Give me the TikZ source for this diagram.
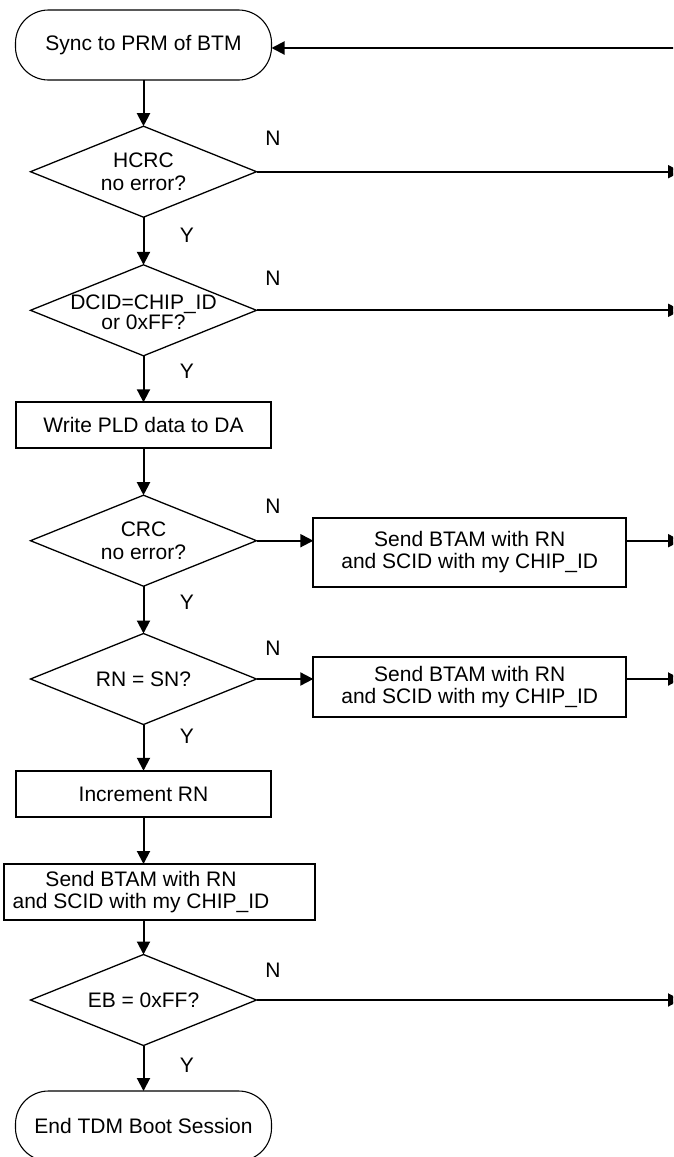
\documentclass[tikz,border=0pt]{standalone}
\usepackage{fontspec}
\setmainfont{Liberation Sans}
\usetikzlibrary{shapes.geometric,arrows.meta}
\begin{document}
\begin{tikzpicture}[x=1pt,y=1pt,
  every node/.style={inner sep=0pt, outer sep=0pt},
  txt/.style={font=\fontsize{21}{21.5}\selectfont, align=center},
  term/.style={draw, line width=1.1pt, rounded corners=33pt,
    minimum width=256pt, minimum height=70pt, txt},
  proc/.style={draw, line width=2.1pt, txt},
  dec/.style={draw, diamond, line width=1.3pt,
    minimum width=226pt, minimum height=91pt},
  dectxt/.style={font=\fontsize{21}{23.3}\selectfont, align=center},
  flow/.style={line width=2pt, -{Triangle[length=13pt,width=13pt]}},
  yn/.style={font=\fontsize{21}{23}\selectfont}
]
\clip (0,0) rectangle (673,-1157);

% main column
\node[term] (t1) at (143.5,-45) {Sync to PRM of BTM};

\node[dec] (d1) at (143.5,-171.7) {};
\node[dectxt] (d1t) at (d1) {HCRC\\no error?};

\node[dec] (d2) at (143.5,-310.3) {};
\node[dectxt, font=\fontsize{21}{17.5}\selectfont] (d2t) at (143.5,-312) {DCID=CHIP\textunderscore ID\\or 0xFF?};

\node[proc, minimum width=255pt, minimum height=46pt] (b1) at (143.5,-425.3) {Write PLD data to DA};

\node[dec] (d3) at (143.5,-540.7) {};
\node[dectxt] (d3t) at (d3) {CRC\\no error?};

\node[dec] (d4) at (143.5,-679) {};
\node[dectxt] (d4t) at (d4) {RN = SN?};

\node[proc, minimum width=255pt, minimum height=46.5pt] (b2) at (143.5,-794) {Increment RN};

\node[proc, minimum width=311pt, minimum height=56pt] (s3) at (159.5,-892) {};
\node[txt] (s3t) at (141,-892) {Send BTAM with RN\\and SCID with my CHIP\textunderscore ID};

\node[dec] (d5) at (143.5,-1000) {};
\node[dectxt] (d5t) at (d5) {EB = 0xFF?};

\node[term] (t2) at (143.5,-1126) {End TDM Boot Session};

% side boxes
\node[proc, minimum width=312.7pt, minimum height=69pt] (s1) at (469.7,-552.2)
  {Send BTAM with RN\\and SCID with my CHIP\textunderscore ID};
\node[proc, minimum width=312.7pt, minimum height=60.7pt] (s2) at (469.7,-687)
  {Send BTAM with RN\\and SCID with my CHIP\textunderscore ID};

% exits towards the return path
\coordinate (rx) at (681,0);
\coordinate (back) at (700,-48);

% vertical flow
\draw[flow] (t1.south) -- (d1.north);
\draw[flow] (d1.south) -- (d2.north);
\draw[flow] (d2.south) -- (b1.north);
\draw[flow] (b1.south) -- (d3.north);
\draw[flow] (d3.south) -- (d4.north);
\draw[flow] (d4.south) -- (b2.north);
\draw[flow] (b2.south) -- (b2.south |- s3.north);
\draw[flow] (s3.south -| d5.north) -- (d5.north);
\draw[flow] (d5.south) -- (t2.north);

% "no" branches
\draw[flow] (d1.east) -- (d1.east -| rx);
\draw[flow] (d2.east) -- (d2.east -| rx);
\draw[flow] (d3.east) -- (d3.east -| s1.west);
\draw[flow] (s1.east |- d3.east) -- (rx |- d3.east);
\draw[flow] (d4.east) -- (d4.east -| s2.west);
\draw[flow] (s2.east |- d4.east) -- (rx |- d4.east);
\draw[flow] (d5.east) -- (d5.east -| rx);

% return to the start
\draw[flow] (back) -- (back -| t1.east);

% branch labels
\node[yn] (n1) at (273,-138) {N};
\node[yn] (n2) at (273,-278) {N};
\node[yn] (n3) at (273,-506.7) {N};
\node[yn] (n4) at (273,-648.3) {N};
\node[yn] (n5) at (273,-970) {N};
\node[yn] (y1) at (187,-235) {Y};
\node[yn] (y2) at (187,-371.7) {Y};
\node[yn] (y3) at (187,-602) {Y};
\node[yn] (y4) at (187,-736.7) {Y};
\node[yn] (y5) at (187,-1065) {Y};
\end{tikzpicture}
\end{document}
